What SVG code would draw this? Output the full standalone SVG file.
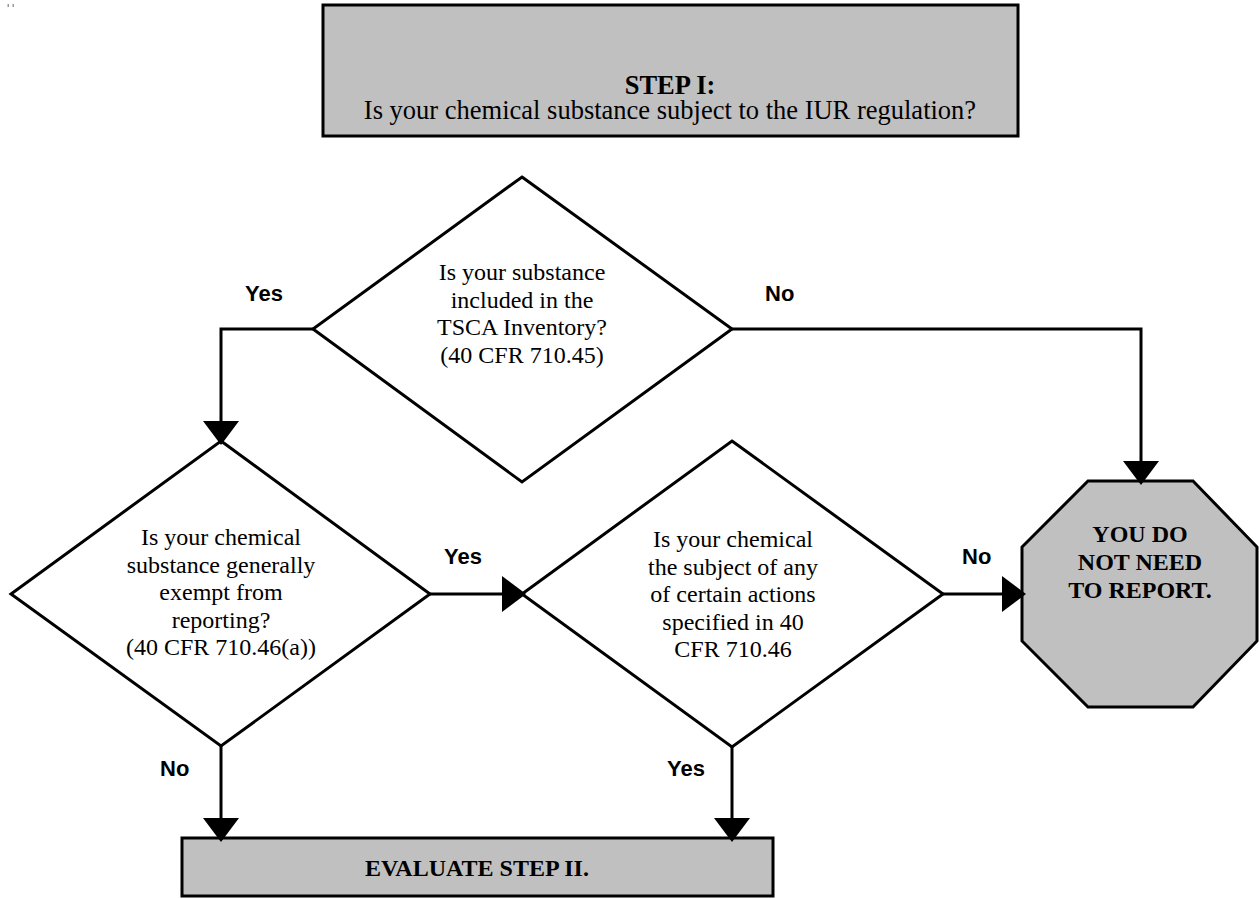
<svg xmlns="http://www.w3.org/2000/svg" width="1259" height="899" viewBox="0 0 1259 899">
  <style>
    .box { fill: #c0c0c0; stroke: #000; stroke-width: 3; }
    .dec { fill: #fff; stroke: #000; stroke-width: 3; stroke-linejoin: miter; }
    .serif { font-family: "Liberation Serif", "Times New Roman", serif; font-size: 24px; fill: #000; text-anchor: middle; }
    .big { font-size: 26.5px; }
    .bold { font-weight: bold; }
    .lbl { font-family: "Liberation Sans", Arial, sans-serif; font-size: 22px; font-weight: bold; fill: #000; }
    .conn { fill: none; stroke: #000; stroke-width: 3; marker-end: url(#arrow); }
  </style>
  <defs>
    <marker id="arrow" markerUnits="userSpaceOnUse" markerWidth="24" markerHeight="36" refX="20" refY="18" orient="auto" viewBox="0 0 24 36">
      <path d="M0,0 L24,18 L0,36 Z" fill="#000"/>
    </marker>
  </defs>

  <rect width="1259" height="899" fill="#fff"/>

  <!-- small marks in the top-left corner -->
  <rect x="7.5" y="4" width="1.5" height="3" fill="#999"/>
  <rect x="12.5" y="4" width="1.5" height="3" fill="#999"/>

  <g id="step1">
    <rect class="box" x="323" y="5" width="695" height="131"/>
    <text class="serif big bold" x="670" y="94">STEP I:</text>
    <text class="serif big" x="670" y="119">Is your chemical substance subject to the IUR regulation?</text>
  </g>

  <g id="inventory">
    <polygon class="dec" points="522,177 732,329 522,482 313,329"/>
    <text class="serif" x="522" y="280">Is your substance</text>
    <text class="serif" x="522" y="307.5">included in the</text>
    <text class="serif" x="522" y="335">TSCA Inventory?</text>
    <text class="serif" x="522" y="362.5">(40 CFR 710.45)</text>
  </g>

  <g id="exempt">
    <polygon class="dec" points="221,441 430,594 221,746 11,594"/>
    <text class="serif" x="221" y="545">Is your chemical</text>
    <text class="serif" x="221" y="572.5">substance generally</text>
    <text class="serif" x="221" y="600">exempt from</text>
    <text class="serif" x="221" y="627.5">reporting?</text>
    <text class="serif" x="221" y="655">(40 CFR 710.46(a))</text>
  </g>

  <g id="actions">
    <polygon class="dec" points="732,441 943,594 732,747 522,594"/>
    <text class="serif" x="733" y="547">Is your chemical</text>
    <text class="serif" x="733" y="574.5">the subject of any</text>
    <text class="serif" x="733" y="602">of certain actions</text>
    <text class="serif" x="733" y="629.5">specified in 40</text>
    <text class="serif" x="733" y="657">CFR 710.46</text>
  </g>

  <g id="no-report">
    <polygon class="box" points="1088,481 1193,481 1257,547 1257,641 1193,707 1088,707 1022,641 1022,547"/>
    <text class="serif bold" x="1140" y="542">YOU DO</text>
    <text class="serif bold" x="1140" y="570">NOT NEED</text>
    <text class="serif bold" x="1140" y="598">TO REPORT.</text>
  </g>

  <g id="step2">
    <rect class="box" x="182" y="838" width="591" height="58"/>
    <text class="serif bold" x="477" y="876">EVALUATE STEP II.</text>
  </g>

  <g id="connectors">
    <path class="conn" d="M313,329 H221 V441"/>
    <path class="conn" d="M732,329 H1141 V481"/>
    <path class="conn" d="M430,594 H522"/>
    <path class="conn" d="M943,594 H1022"/>
    <path class="conn" d="M221,746 V838"/>
    <path class="conn" d="M732,747 V838"/>
  </g>

  <g id="labels">
    <text class="lbl" x="245" y="301">Yes</text>
    <text class="lbl" x="765" y="301">No</text>
    <text class="lbl" x="444" y="564">Yes</text>
    <text class="lbl" x="962" y="564">No</text>
    <text class="lbl" x="160" y="776">No</text>
    <text class="lbl" x="667" y="776">Yes</text>
  </g>
</svg>
